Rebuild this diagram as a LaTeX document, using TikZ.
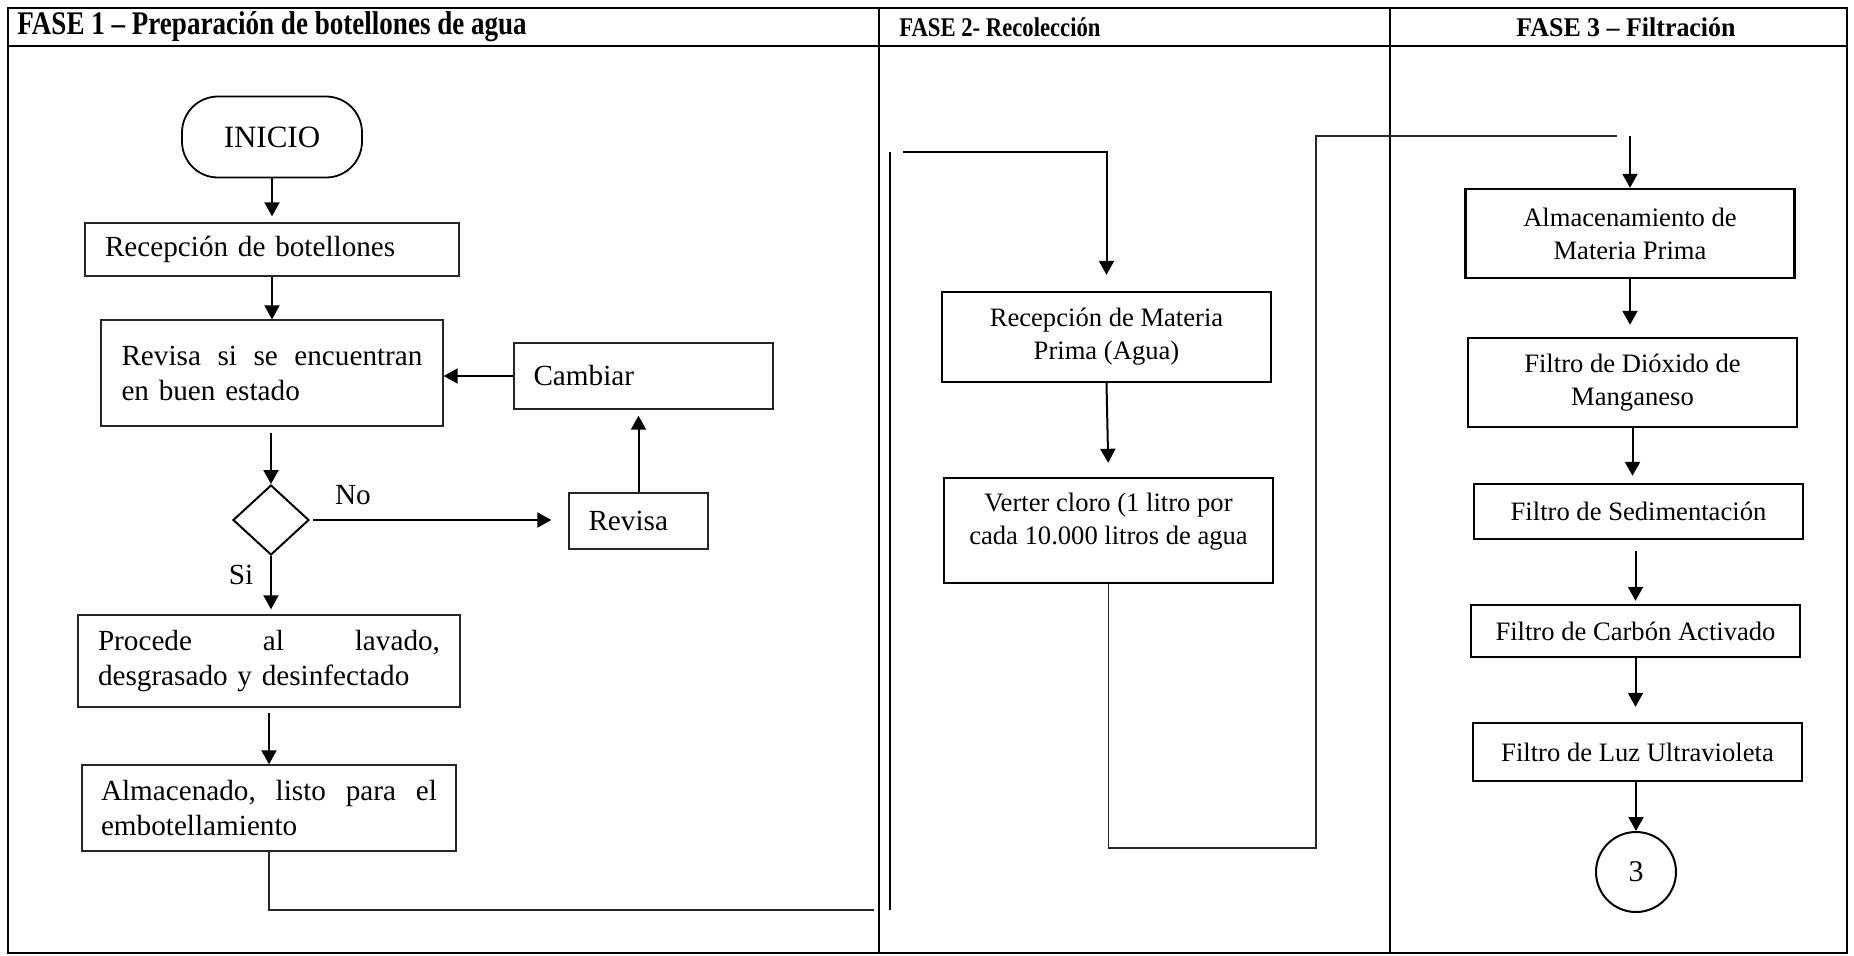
\documentclass[tikz,border=0pt]{standalone}
\usepackage{fontspec}
\setmainfont{Liberation Serif}
\usetikzlibrary{shapes.geometric,arrows.meta,calc}
\newcommand\bodyA{\fontsize{14.6}{17.5}\selectfont}
\newcommand\bodyB{\fontsize{13.3}{16.5}\selectfont}
\newcommand\hdrA{\fontsize{16.5}{18}\selectfont\bfseries}
\newcommand\hdrB{\fontsize{13.5}{16}\selectfont\bfseries}
\newcommand\jline[2]{\hbox to #1{#2}}
\begin{document}
\begin{tikzpicture}[x=0.5pt,y=-0.5pt,
  tbl/.style={line width=1pt,black},
  boxa/.style={draw=black!85,line width=0.7pt,rectangle,inner ysep=0pt,font=\bodyA,align=left},
  boxb/.style={draw=black,line width=1.2pt,rectangle,inner sep=0pt,font=\bodyB,align=center,minimum width=164.5pt},
  arr/.style={-{Triangle[width=7.5pt,length=7pt]},line width=1pt},
  thin/.style={line width=0.6pt,black!85},
  lbl/.style={font=\bodyA,inner sep=0pt},
  txtb/.style={font=\bodyB,align=center,inner sep=0pt}
]
\useasboundingbox (0,0) rectangle (1854,955);
% table
\draw[tbl] (8,8) rectangle (1847,953);
\draw[tbl] (8,46) -- (1847,46);
\draw[tbl] (879,8) -- (879,953);
\draw[tbl] (1390,8) -- (1390,953);
\node[font=\hdrA,anchor=west,inner sep=0pt] (h1) at (17,27) {\scalebox{0.82}[1]{FASE 1 – Preparación de botellones de agua}};
\node[font=\hdrB,anchor=west,inner sep=0pt] (h2) at (899,27) {\scalebox{0.84}[1]{FASE 2- Recolección}};
\node[font=\hdrB,inner sep=0pt] (h3) at (1626,27) {\scalebox{0.96}[1]{FASE 3 – Filtración}};

% phase 1
\node[draw=black,line width=0.9pt,rounded corners=18pt,minimum width=90pt,minimum height=40.5pt,inner sep=0pt,font=\fontsize{15.5}{18}\selectfont] (term) at (272,137) {INICIO};
\node[boxa,minimum width=187pt,minimum height=26.5pt,text width=167pt,inner xsep=10pt] (rec1) at (272,249.5) {Recepción de botellones};
\node[boxa,minimum width=171pt,minimum height=53pt,text width=150.5pt,inner xsep=10pt] (rev1) at (272,373) {\jline{150.5pt}{Revisa\hfill si\hfill se\hfill encuentran}\\en buen estado};
\node[boxa,minimum width=129.5pt,minimum height=33pt,text width=110pt,inner xsep=9.75pt] (cam) at (643.5,376) {Cambiar};
\node[draw=black,line width=1pt,diamond,aspect=1.086,minimum width=38pt,minimum height=35pt,inner sep=0pt] (dia) at (271,520) {};
\node[boxa,minimum width=69.5pt,minimum height=28pt,text width=50pt,inner xsep=9.75pt] (rev2) at (638.5,521) {Revisa};
\node[boxa,minimum width=191pt,minimum height=46pt,text width=171pt,inner xsep=10pt] (proc) at (269,661) {\jline{171pt}{Procede\hfill al\hfill lavado,}\\desgrasado y desinfectado};
\node[boxa,minimum width=187pt,minimum height=43pt,text width=168pt,inner xsep=9.5pt] (alm1) at (269,808) {\jline{168pt}{Almacenado,\hfill listo\hfill para\hfill el}\\embotellamiento};
\node[lbl] (no) at (353,495) {No};
\node[lbl] (si) at (241,575) {Si};

\draw[arr,shorten >=3pt] (rec1.north |- term.south) -- (rec1.north);
\draw[arr] (rec1.south) -- (rev1.north);
\draw[arr,shorten <=3pt] (dia.north |- rev1.south) -- (dia.north);
\draw[arr] (cam.west) -- (cam.west -| rev1.east);
\draw[arr,shorten <=1.5pt,shorten >=8.5pt] (dia.east) -- (rev2.west |- dia.east);
\draw[arr,shorten >=3pt] (rev2.north) -- (rev2.north |- cam.south);
\draw[arr,shorten >=2.5pt] (dia.south) -- (dia.south |- proc.north);
\draw[arr,shorten <=2.5pt] (alm1.north |- proc.south) -- (alm1.north);
\coordinate (c1) at (874,910);
\draw[thin] (alm1.south) |- (c1);

% phase 2
\draw[line width=0.6pt] (890,152) -- (890,910);
\node[boxb,minimum height=45pt] (rmp) at (1106.5,337) {Recepción de Materia\\Prima (Agua)};
\node[boxb,minimum height=52.5pt] (verter) at (1108.5,530.5) {};
\node[txtb] (verterT) at (1108.5,521.5) {Verter cloro (1 litro por\\cada 10.000 litros de agua};
\coordinate (c2) at (903,152);
\draw[arr,shorten >=8pt] (c2) -| (rmp.north);
\draw[arr,shorten >=7pt] (rmp.south) -- (verter.north);
\coordinate (k1) at (1316,848);
\coordinate (k2) at (1316,136);
\coordinate (c3a) at (1617,136);
\draw[thin] (verter.south) |- (k1) -- (k2) -- (c3a);

% phase 3
\node[boxb,minimum height=44.5pt] (alm3) at (1630,233.5) {Almacenamiento de\\Materia Prima};
\node[boxb,minimum height=44.5pt] (dio) at (1632.5,382.5) {Filtro de Dióxido de\\Manganeso};
\node[boxb,minimum height=27.5pt] (sed) at (1638.5,511.5) {Filtro de Sedimentación};
\node[boxb,minimum height=26pt] (carb) at (1635.5,631) {Filtro de Carbón Activado};
\node[boxb,minimum height=29pt] (luz) at (1637.5,752) {Filtro de Luz Ultravioleta};
\node[circle,draw=black,line width=1pt,minimum size=40pt,inner sep=0pt,font=\fontsize{15}{18}\selectfont] (c3) at (1636,872) {3};
\coordinate (c3b) at (1630,136);
\draw[arr] (c3b) -- (c3b |- alm3.north);
\draw[arr,shorten >=6pt] (alm3.south) -- (alm3.south |- dio.north);
\draw[arr,shorten >=3.5pt] (dio.south) -- (dio.south |- sed.north);
\draw[arr,shorten <=5.5pt,shorten >=1.5pt] (carb.north |- sed.south) -- (carb.north);
\draw[arr,shorten >=7.5pt] (carb.south) -- (carb.south |- luz.north);
\draw[arr] (c3.north |- luz.south) -- (c3.north);
\end{tikzpicture}
\end{document}
